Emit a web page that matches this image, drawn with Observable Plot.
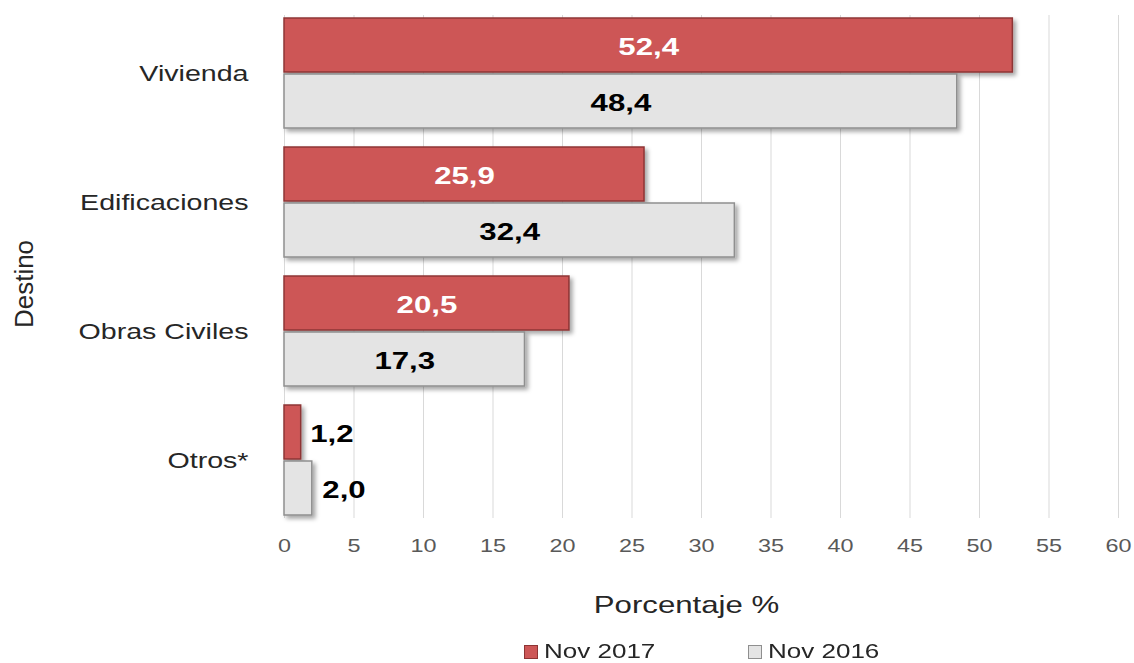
<!DOCTYPE html>
<html>
<head>
<meta charset="utf-8">
<script src="https://cdn.jsdelivr.net/npm/d3@7"></script>
<script src="https://cdn.jsdelivr.net/npm/@observablehq/plot@0.6"></script>
<style>
  html, body { margin: 0; padding: 0; background: #fff; }
  body { width: 1134px; height: 663px; overflow: hidden; font-family: "Liberation Sans", Arial, sans-serif; }
  #legend { position: relative; height: 33px; font-size: 20px; color: #262626; }
  .sw { position: absolute; top: 15px; width: 14px; height: 14px; box-sizing: border-box; }
  .lt { position: absolute; top: 9px; line-height: 24px; transform: scaleX(1.3); transform-origin: left center; white-space: nowrap; }
</style>
</head>
<body>
<div id="chart"></div>
<div id="legend"></div>
<script>
const categories = ["Vivienda", "Edificaciones", "Obras Civiles", "Otros*"];
const series = ["Nov 2017", "Nov 2016"];
const nov2017 = [52.4, 25.9, 20.5, 1.2];
const nov2016 = [48.4, 32.4, 17.3, 2.0];
const xTicks = [0, 5, 10, 15, 20, 25, 30, 35, 40, 45, 50, 55, 60];
const colors = {"Nov 2017": "#CD5757", "Nov 2016": "#E4E4E4"};
const strokes = {"Nov 2017": "#8E3434", "Nov 2016": "#8F8F8F"};

const d17 = categories.map((c, i) => ({cat: c, s: series[0], v: nov2017[i]}));
const d16 = categories.map((c, i) => ({cat: c, s: series[1], v: nov2016[i]}));
const fmt = v => v.toFixed(1).replace(".", ",");
const inside = d => d.v >= 5;
const outside = d => d.v < 5;

const chart = Plot.plot({
  width: 1134,
  height: 630,
  marginLeft: 284,
  marginRight: 16,
  marginTop: 15,
  marginBottom: 112,
  style: {fontFamily: "'Liberation Sans', Arial, sans-serif", background: "#fff"},
  x: {domain: [0, 60]},
  y: {domain: categories, paddingInner: 0.15, paddingOuter: 0.02},
  marks: [
    Plot.gridX(xTicks, {stroke: "#D9D9D9", strokeOpacity: 1, strokeWidth: 1}),
    Plot.axisX(xTicks, {tickSize: 0, tickPadding: 21, fontSize: 18, fill: "#595959",
      label: "Porcentaje %", labelAnchor: "center", labelOffset: 92, labelArrow: "none"}),
    Plot.axisY({tickSize: 0, tickPadding: 36, fontSize: 22, fill: "#262626",
      label: "Destino", labelAnchor: "center", labelOffset: 270}),
    Plot.barX(d17, {x: "v", y: "cat", fill: colors["Nov 2017"], stroke: strokes["Nov 2017"], strokeWidth: 1.5, insetBottom: 56, className: "bar3d"}),
    Plot.barX(d16, {x: "v", y: "cat", fill: colors["Nov 2016"], stroke: strokes["Nov 2016"], strokeWidth: 1.5, insetTop: 56, className: "bar3d"}),
    Plot.text(d17, {filter: inside, x: d => d.v / 2, y: "cat", text: d => fmt(d.v), dy: -26,
      fill: "#fff", textAnchor: "middle", fontSize: 24, fontWeight: "bold"}),
    Plot.text(d17, {filter: outside, x: "v", y: "cat", text: d => fmt(d.v), dy: -26, dx: 9,
      fill: "#000", textAnchor: "start", fontSize: 24, fontWeight: "bold"}),
    Plot.text(d16, {filter: inside, x: d => d.v / 2, y: "cat", text: d => fmt(d.v), dy: 30,
      fill: "#000", textAnchor: "middle", fontSize: 24, fontWeight: "bold"}),
    Plot.text(d16, {filter: outside, x: "v", y: "cat", text: d => fmt(d.v), dy: 30, dx: 10,
      fill: "#000", textAnchor: "start", fontSize: 24, fontWeight: "bold"})
  ]
});

const svg = d3.select(chart);
const defs = svg.insert("defs", ":first-child");
const f = defs.append("filter").attr("id", "shadow").attr("x", "-10%").attr("y", "-20%").attr("width", "130%").attr("height", "160%");
f.append("feDropShadow").attr("dx", 3).attr("dy", 3).attr("stdDeviation", 2).attr("flood-color", "#000").attr("flood-opacity", 0.35);
svg.selectAll(".bar3d").attr("filter", "url(#shadow)");

// axis labels styling and placement (prepend offsets to existing transforms)
function shift(sel, dx, dy) {
  sel.each(function() {
    const t = this.getAttribute("transform") || "";
    this.setAttribute("transform", `translate(${dx},${dy}) ${t}`.trim());
  });
}
const xl = svg.selectAll("[aria-label='x-axis label']").attr("font-size", 24).attr("fill", "#262626");
const yl = svg.selectAll("[aria-label='y-axis label']").attr("font-size", 26).attr("fill", "#262626");
shift(xl, -15, 2);
shift(yl, 0, 17);
svg.selectAll("[aria-label='x-axis label'] text").each(function() {
  this.textContent = this.textContent.replace(/\s*[→←↑↓]\s*/g, "").trim();
});

// horizontal stretch of the reference typography
svg.selectAll("text").each(function() {
  const g = this.closest("[aria-label]");
  if (g && g.getAttribute("aria-label") === "y-axis label") return;
  const t = this.getAttribute("transform");
  if (t && !/rotate/.test(t)) this.setAttribute("transform", t + " scale(1.3,1)");
  else if (!t) {
    const x = +this.getAttribute("x") || 0, y = +this.getAttribute("y") || 0;
    this.setAttribute("transform", `translate(${x},${y}) scale(1.3,1)`);
    this.setAttribute("x", 0); this.setAttribute("y", 0);
  }
});

document.getElementById("chart").appendChild(chart);

const legend = document.getElementById("legend");
const legendPos = {"Nov 2017": 524, "Nov 2016": 748};
series.forEach(s => {
  const sw = document.createElement("div");
  sw.className = "sw";
  sw.style.left = legendPos[s] + "px";
  sw.style.background = colors[s];
  sw.style.border = "1px solid " + strokes[s];
  const t = document.createElement("span");
  t.className = "lt";
  t.style.left = (legendPos[s] + 20) + "px";
  t.textContent = s;
  legend.appendChild(sw); legend.appendChild(t);
});
</script>
</body>
</html>
